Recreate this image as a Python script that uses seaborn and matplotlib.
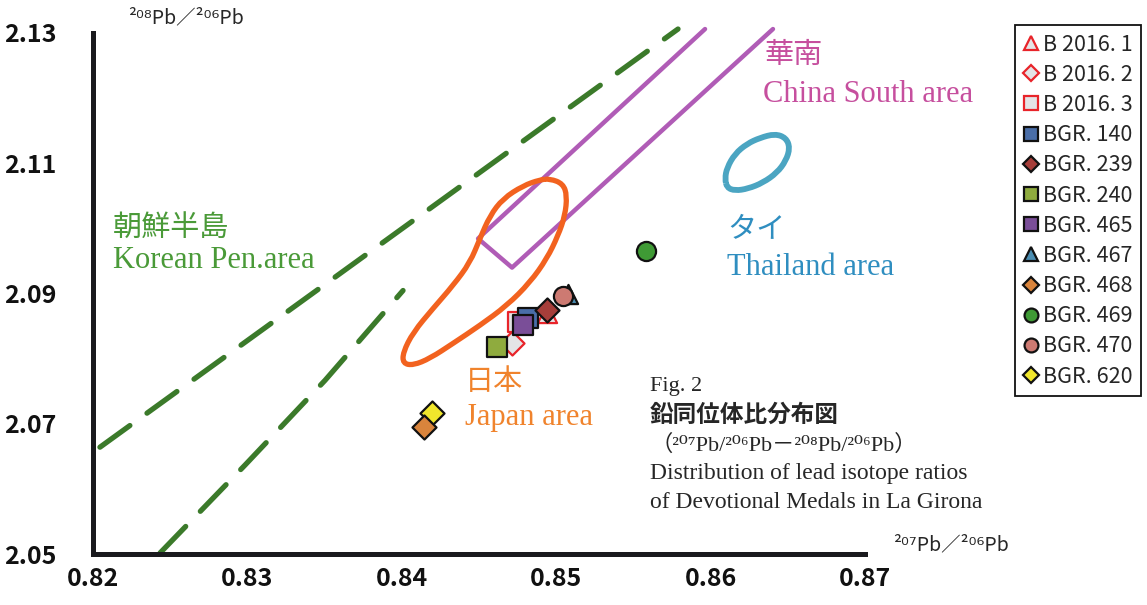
import numpy as np
import pandas as pd
import matplotlib
matplotlib.use("Agg")
import matplotlib.pyplot as plt
from matplotlib.lines import Line2D
from matplotlib.path import Path
from matplotlib.patches import PathPatch
import seaborn as sns

sns.set_theme(style="white")
plt.rcParams["font.family"] = ["Liberation Sans Narrow", "Noto Sans CJK JP", "DejaVu Sans"]

# ── data ─────────────────────────────────────────────────────────────────────
samples = ["B 2016. 1", "B 2016. 2", "B 2016. 3", "BGR. 140", "BGR. 239", "BGR. 240",
           "BGR. 465", "BGR. 467", "BGR. 468", "BGR. 469", "BGR. 470", "BGR. 620"]
pb207_206 = [0.84940, 0.84714, 0.84753, 0.84817, 0.84940, 0.84617,
             0.84785, 0.85076, 0.84144, 0.85582, 0.85044, 0.84196]
pb208_206 = [2.08693, 2.08234, 2.08556, 2.08617, 2.08739, 2.08172,
             2.08510, 2.09000, 2.06946, 2.09659, 2.08969, 2.07161]

# region outlines
korea_upper_x = [0.82045, 0.85789]
korea_upper_y = [2.06640, 2.13061]
korea_lower_x = [0.82434, 0.82984, 0.83503, 0.84008]
korea_lower_y = [2.05015, 2.06364, 2.07667, 2.09046]

china_x = [0.85964, 0.84494, 0.84714, 0.86404]
china_y = [2.13061, 2.09843, 2.09398, 2.13061]

japan_x = [0.84960, 0.85044, 0.85070, 0.85057, 0.85012, 0.84940, 0.84830, 0.84681,
           0.84506, 0.84332, 0.84183, 0.84073, 0.84008, 0.84008, 0.84073, 0.84202,
           0.84332, 0.84442, 0.84506, 0.84571, 0.84655, 0.84785, 0.84895]
japan_y = [2.10762, 2.10686, 2.10502, 2.10195, 2.09889, 2.09536, 2.09169, 2.08816,
           2.08510, 2.08234, 2.08004, 2.07897, 2.07927, 2.08096, 2.08402, 2.08770,
           2.09123, 2.09475, 2.09843, 2.10195, 2.10456, 2.10655, 2.10747]

thai_x = [0.86093, 0.86106, 0.86158, 0.86236, 0.86320, 0.86417, 0.86488,
          0.86514, 0.86488, 0.86430, 0.86339, 0.86242, 0.86158, 0.86106]
thai_y = [2.10762, 2.10931, 2.11146, 2.11299, 2.11391, 2.11452, 2.11391,
          2.11238, 2.11038, 2.10854, 2.10701, 2.10609, 2.10579, 2.10625]

x_ticks = [0.82, 0.83, 0.84, 0.85, 0.86, 0.87]
y_ticks = [2.05, 2.07, 2.09, 2.11, 2.13]

# ── styles ───────────────────────────────────────────────────────────────────
RED = "#e8242a"
LIGHT = "#e4e4e6"
styles = {
    "B 2016. 1": ("^", LIGHT, RED),
    "B 2016. 2": ("D", LIGHT, RED),
    "B 2016. 3": ("s", LIGHT, RED),
    "BGR. 140": ("s", "#4a6ea8", "#111111"),
    "BGR. 239": ("D", "#a63e3a", "#111111"),
    "BGR. 240": ("s", "#8fab3e", "#111111"),
    "BGR. 465": ("s", "#7a4e98", "#111111"),
    "BGR. 467": ("^", "#4a8db2", "#111111"),
    "BGR. 468": ("D", "#d9843c", "#111111"),
    "BGR. 469": ("o", "#3f9a35", "#111111"),
    "BGR. 470": ("o", "#cd7a72", "#111111"),
    "BGR. 620": ("D", "#f0e62c", "#111111"),
}
sizes = {"s": 200, "D": 150, "^": 190, "o": 190}

df = pd.DataFrame({"sample": samples, "x": pb207_206, "y": pb208_206})

W, H = 1147, 605
fig = plt.figure(figsize=(W / 100, H / 100), dpi=100)
ax = fig.add_axes([93 / W, 1 - 554 / H, 772 / W, 521 / H])


def fpx(x, y):
    return x / W, 1 - y / H


def loop_path(xs, ys):
    # closed quadratic curve using the read points as control points
    pts = np.column_stack([xs, ys])
    mids = (pts + np.roll(pts, -1, axis=0)) / 2
    verts = [mids[-1]]
    codes = [Path.MOVETO]
    for p, m in zip(pts, mids):
        verts += [p, m]
        codes += [Path.CURVE3, Path.CURVE3]
    return Path(verts, codes)


# ── region outlines ──────────────────────────────────────────────────────────
KOREA = "#3b7a2a"
ax.plot(korea_upper_x, korea_upper_y, color=KOREA, lw=3.8, dashes=(7, 4),
        dash_capstyle="round", clip_on=False, zorder=2)
ax.plot(korea_lower_x, korea_lower_y, color=KOREA, lw=3.8, dashes=(7, 4),
        dash_capstyle="round", clip_on=False, zorder=2)
ax.plot(china_x, china_y, color="#b05cb6", lw=3.2, clip_on=False, zorder=2)
ax.add_patch(PathPatch(loop_path(japan_x, japan_y), facecolor="none",
                       edgecolor="#f2621f", lw=3.8, zorder=2))
ax.add_patch(PathPatch(loop_path(thai_x, thai_y), facecolor="none",
                       edgecolor="#4ba5c2", lw=4.2, zorder=2))

# ── samples ──────────────────────────────────────────────────────────────────
handles = []
for i, row in df.iterrows():
    mk, fc, ec = styles[row["sample"]]
    z = 6 if row["sample"] == "BGR. 468" else 5
    sns.scatterplot(x=[row["x"]], y=[row["y"]], marker=mk, s=sizes[mk],
                    color=fc, edgecolor=ec, linewidth=1.6, ax=ax, zorder=z,
                    legend=False)
    handles.append(Line2D([], [], marker=mk, linestyle="none",
                          markersize=10 if mk != "D" else 8.5,
                          markerfacecolor=fc, markeredgecolor=ec, markeredgewidth=1.6,
                          label=row["sample"]))

# ── axes ─────────────────────────────────────────────────────────────────────
ax.set_xlim(0.82, 0.87)
ax.set_ylim(2.05, 2.13)
ax.set_xticks(x_ticks)
ax.set_yticks(y_ticks)
ax.set_xticklabels([f"{v:.2f}" for v in x_ticks], fontsize=18, fontweight="bold")
ax.set_yticklabels([f"{v:.2f}" for v in y_ticks], fontsize=18, fontweight="bold")
ax.tick_params(axis="both", length=0, colors="#111111")
ax.tick_params(axis="x", pad=9)
ax.tick_params(axis="y", pad=26)
ax.set_xlabel("")
ax.set_ylabel("")
for side in ["top", "right"]:
    ax.spines[side].set_visible(False)
for side in ["left", "bottom"]:
    ax.spines[side].set_linewidth(3.6)
    ax.spines[side].set_color("#1a1a1e")
ax.set_facecolor("white")

fig.text(*fpx(128, 18), "²⁰⁸Pb／²⁰⁶Pb", fontsize=14, va="center", ha="left")
fig.text(*fpx(893, 545), "²⁰⁷Pb／²⁰⁶Pb", fontsize=14, va="center", ha="left")

# ── region labels ────────────────────────────────────────────────────────────
JP = ["Noto Sans CJK JP", "DejaVu Sans"]
SERIF = ["Liberation Serif", "DejaVu Serif"]
labels = [
    (113, 228, "朝鮮半島", "#4a9a38", JP, 21),
    (113, 260, "Korean Pen.area", "#4a9a38", SERIF, 22),
    (765, 55, "華南", "#c64f9e", JP, 21),
    (763, 95, "China South area", "#c64f9e", SERIF, 22),
    (727, 230, "タイ", "#2f8ec0", JP, 21),
    (727, 268, "Thailand area", "#2f8ec0", SERIF, 22),
    (465, 382, "日本", "#f0832c", JP, 21),
    (465, 418, "Japan area", "#f0832c", SERIF, 22),
]
for x, y, s, c, fam, fs in labels:
    fig.text(*fpx(x, y), s, color=c, family=fam, fontsize=fs, va="center", ha="left")

fig.text(*fpx(650, 387), "Fig. 2", family=SERIF, fontsize=16, va="center")
fig.text(*fpx(650, 415), "鉛同位体比分布図", family=JP, fontsize=17, fontweight="bold", va="center")
fig.text(*fpx(650, 445), "（²⁰⁷Pb/²⁰⁶Pb－²⁰⁸Pb/²⁰⁶Pb）",
         family=["Liberation Serif", "Noto Sans CJK JP", "DejaVu Serif"], fontsize=16, va="center")
fig.text(*fpx(650, 473), "Distribution of lead isotope ratios", family=SERIF, fontsize=17, va="center")
fig.text(*fpx(650, 502), "of Devotional Medals in La Girona", family=SERIF, fontsize=17, va="center")

# ── legend ───────────────────────────────────────────────────────────────────
leg = fig.legend(handles=handles, loc="upper left", bbox_to_anchor=fpx(1015, 25),
                 frameon=True, fancybox=False, edgecolor="#111111", framealpha=1,
                 fontsize=15.5, handlelength=0.7, handletextpad=0.2, labelspacing=0.38,
                 borderpad=0.4, borderaxespad=0)
leg.get_frame().set_linewidth(1.3)

fig.savefig("out.png", dpi=100, facecolor="white")
